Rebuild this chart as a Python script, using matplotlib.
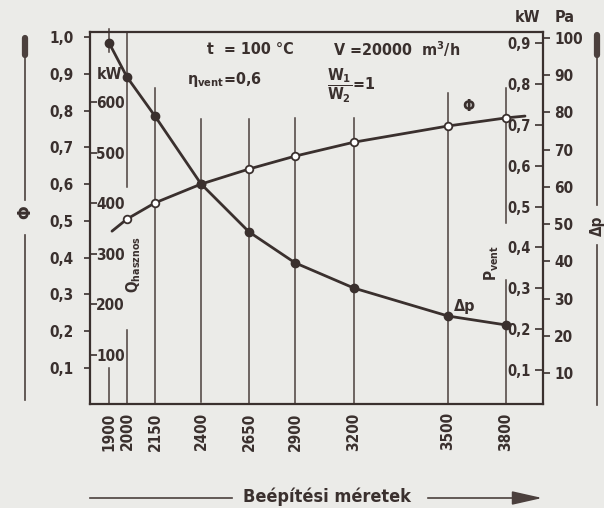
import matplotlib
matplotlib.use("Agg")
import matplotlib.pyplot as plt
from matplotlib.lines import Line2D
from matplotlib.patches import FancyArrowPatch

# sizes along the bottom and where each one sits along the chart
sizes = [1900, 2000, 2150, 2400, 2650, 2900, 3200, 3500, 3800]
x_pos = [19, 37, 65, 111, 159, 205, 264, 358, 416]

# Phi curve (open markers), read on the left Phi scale
phi_x = [37, 65, 111, 159, 205, 264, 358, 416]
phi_vals = [0.505, 0.549, 0.600, 0.641, 0.676, 0.714, 0.758, 0.780]
phi_line_x = [22] + phi_x + [435]
phi_line = [0.472] + phi_vals + [0.785]

# pressure drop curve (filled markers), read on the Pa scale
dp_pa = [98.7, 89.5, 79.0, 60.8, 47.9, 39.6, 32.8, 25.3, 22.9]

# the four scales
phi_ticks = [0.1, 0.2, 0.3, 0.4, 0.5, 0.6, 0.7, 0.8, 0.9, 1.0]
q_ticks = [100, 200, 300, 400, 500, 600]
p_ticks = [0.1, 0.2, 0.3, 0.4, 0.5, 0.6, 0.7, 0.8, 0.9]
pa_ticks = [10, 20, 30, 40, 50, 60, 70, 80, 90, 100]

INK = "#3a302e"
LINE = "#4b403d"
BG = "#ebebe8"

plt.rcParams["font.family"] = ["DejaVu Sans"]
plt.rcParams["font.stretch"] = "condensed"
plt.rcParams["font.weight"] = "bold"
plt.rcParams["mathtext.fontset"] = "custom"
plt.rcParams["mathtext.rm"] = "DejaVu Sans:bold"
plt.rcParams["mathtext.it"] = "DejaVu Sans:bold"
plt.rcParams["mathtext.bf"] = "DejaVu Sans:bold"

FS = 11


def comma(v):
    return f"{v:.1f}".replace(".", ",")


fig = plt.figure(figsize=(6.04, 5.08), dpi=100, facecolor=BG)
ax = fig.add_axes([90 / 604, 1 - 404 / 508, 453 / 604, 372 / 508])
ax.set_facecolor(BG)
ax.set_xlim(0, 453)
ax.set_ylim(0.002, 1.0136)
for s in ax.spines.values():
    s.set_linewidth(1.6)
    s.set_color(INK)

# vertical size lines (bottom, top) in Phi units, some with a gap for labels
segments = {
    1900: [(0.002, 0.10), (0.96, 1.022)],
    2000: [(0.002, 0.203), (0.592, 1.0136)],
    2150: [(0.002, 0.861)],
    2400: [(0.008, 0.777)],
    2650: [(0.002, 0.777)],
    2900: [(0.002, 0.780)],
    3200: [(0.002, 0.780)],
    3500: [(0.002, 0.848)],
    3800: [(0.002, 0.339), (0.494, 0.861)],
}
for xp, size in zip(x_pos, sizes):
    for lo, hi in segments[size]:
        ax.plot([xp, xp], [lo, hi], color=LINE, lw=1.1, clip_on=False, zorder=2)

ax.set_xticks(x_pos)
ax.set_xticklabels([str(s) for s in sizes], rotation=90, fontsize=FS, color=INK)
ax.tick_params(axis="x", length=0, pad=6)
ax.set_yticks(phi_ticks)
ax.set_yticklabels([comma(v) for v in phi_ticks], fontsize=FS, color=INK)
ax.tick_params(axis="y", direction="out", length=4, width=1.2, color=INK, pad=8)

ax.plot(phi_line_x, phi_line, color=INK, lw=2.0, zorder=4, solid_capstyle="round")
ax.plot(phi_x, phi_vals, ls="none", marker="o", ms=5.5, mfc="white",
        mec=INK, mew=1.3, zorder=5)

# Q hasznos kW scale, ticks inside on the left spine
ax_q = ax.twinx()
ax_q.set_ylim(3.2, 738.3)
ax_q.yaxis.tick_left()
ax_q.set_yticks(q_ticks)
ax_q.set_yticklabels([str(v) for v in q_ticks], fontsize=FS, color=INK)
ax_q.tick_params(axis="y", direction="in", length=5, width=1.2, color=INK, pad=-25)
for s in ax_q.spines.values():
    s.set_visible(False)

# P vent kW scale, ticks inside on the right spine
ax_p = ax.twinx()
ax_p.set_ylim(0.017, 0.927)
ax_p.set_yticks(p_ticks)
ax_p.set_yticklabels([comma(v) for v in p_ticks], fontsize=FS - 0.5, color=INK)
ax_p.tick_params(axis="y", direction="in", length=6, width=1.2, color=INK, pad=-8.5)
for t in ax_p.get_yticklabels():
    t.set_ha("right")
for s in ax_p.spines.values():
    s.set_visible(False)

# Pa scale, outside on the right
ax_pa = ax.twinx()
ax_pa.set_ylim(1.67, 101.6)
ax_pa.set_yticks(pa_ticks)
ax_pa.set_yticklabels([str(v) for v in pa_ticks], fontsize=FS, color=INK)
ax_pa.tick_params(axis="y", direction="out", length=5, width=1.2, color=INK, pad=3)
for s in ax_pa.spines.values():
    s.set_visible(False)
ax_pa.plot(x_pos, dp_pa, color=INK, lw=2.0, marker="o", ms=6, mfc=INK,
           mec=INK, zorder=5, solid_capstyle="round", clip_on=False)

# texts inside the chart
txt = dict(color=INK, fontsize=FS + 0.5, transform=ax.transData)
ax.text(117, 0.965, "t  = 100 °C", va="center", **txt)
ax.text(243, 0.967, "V =20000  m$^3$/h", va="center", **txt)
ax.text(97, 0.885, r"$\eta_{\rm vent}$=0,6", va="center", **txt)
ax.text(237, 0.868, r"$\dfrac{W_1}{W_2}$=1", va="center", **txt)
ax.text(7, 0.897, "kW", va="center", **txt)
ax.text(44, 0.382, r"$\rm Q_{hasznos}$", va="center", ha="center", rotation=90,
        color=INK, fontsize=FS, transform=ax.transData)
ax.text(402, 0.385, r"$\rm P_{vent}$", va="center", ha="center", rotation=90,
        color=INK, fontsize=FS, transform=ax.transData)
ax.text(378, 0.812, "Φ", va="center", ha="center", **txt)
ax.text(375, 0.268, "Δp", va="center", ha="center", **txt)
ax.text(437, 1.054, "kW", va="center", ha="center", clip_on=False, **txt)
ax.text(475, 1.054, "Pa", va="center", ha="center", clip_on=False, **txt)


# side markers for the two main quantities
def fy(py):
    return 1 - py / 508


lx = 25 / 604
fig.add_artist(Line2D([lx, lx], [fy(200), fy(38)], color=LINE, lw=1.2))
fig.add_artist(Line2D([lx, lx], [fy(55), fy(38)], color=LINE, lw=4.5, solid_capstyle="round"))
fig.add_artist(Line2D([lx, lx], [fy(235), fy(400)], color=LINE, lw=1.2))
fig.text(lx, fy(212), "Φ", rotation=90, ha="center", va="center", fontsize=13, color=INK)

rx = 597 / 604
fig.add_artist(Line2D([rx, rx], [fy(205), fy(35)], color=LINE, lw=1.2))
fig.add_artist(Line2D([rx, rx], [fy(55), fy(35)], color=LINE, lw=4.5, solid_capstyle="round"))
fig.add_artist(Line2D([rx, rx], [fy(245), fy(405)], color=LINE, lw=1.2))
fig.text(rx, fy(226), "Δp", rotation=90, ha="center", va="center", fontsize=FS, color=INK)

# bottom caption with arrow
fig.text(327 / 604, fy(497), "Beépítési méretek", ha="center", va="center",
         fontsize=13, color=INK)
fig.add_artist(Line2D([90 / 604, 232 / 604], [fy(498), fy(498)], color=LINE, lw=1.2))
fig.add_artist(FancyArrowPatch((425 / 604, fy(498)), (545 / 604, fy(498)),
                               transform=fig.transFigure,
                               arrowstyle="-|>,head_length=6.2,head_width=1.4",
                               color=LINE, lw=1.2, mutation_scale=3))

fig.savefig("out.png", dpi=100, facecolor=BG)
